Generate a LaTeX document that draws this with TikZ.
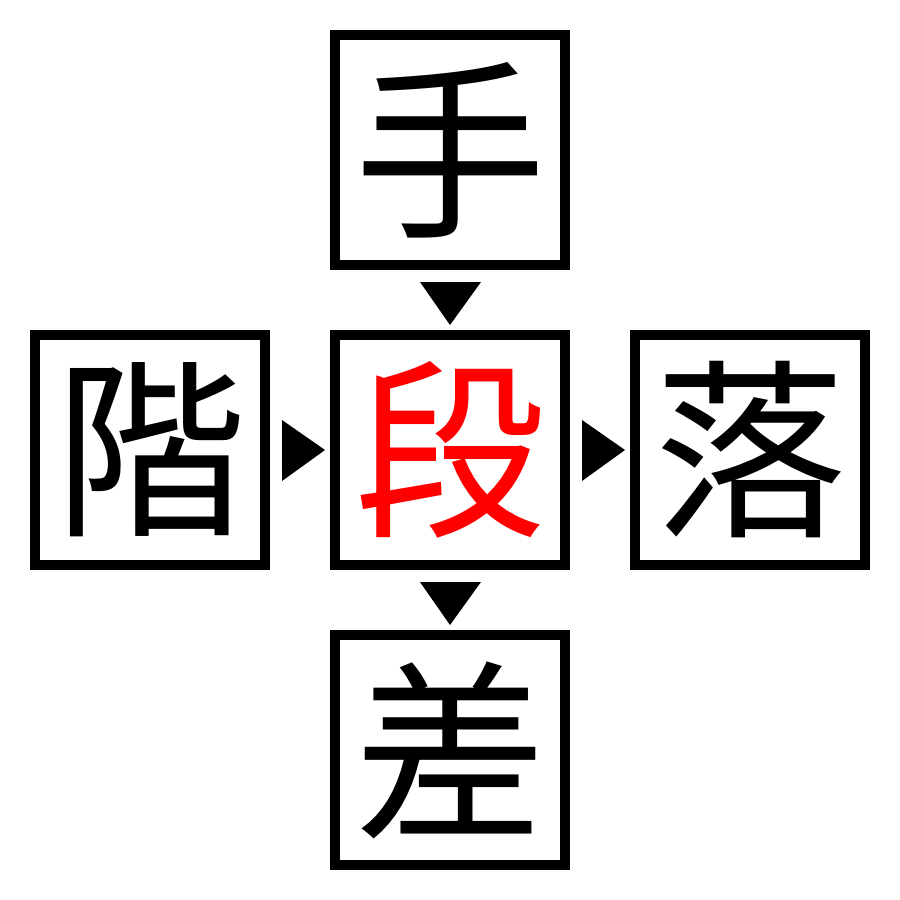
\documentclass[tikz,border=0pt]{standalone}
\usepackage{fontspec}
\newfontfamily\cjk{Noto Sans CJK JP}
\begin{document}
\begin{tikzpicture}[x=1pt,y=-1pt,
  kbox/.style={draw=black,line width=10pt,minimum width=230pt,minimum height=230pt,inner sep=0pt,font=\cjk\fontsize{192}{192}\selectfont,anchor=center},
  tri/.style={fill=black}]
\useasboundingbox (0,0) rectangle (900,900);
\node[kbox] (top) at (450,150) {手};
\node[kbox] (left) at (150,450) {階};
\node[kbox,text=red] (mid) at (450,450) {段};
\node[kbox] (right) at (750,450) {落};
\node[kbox] (bot) at (450,750) {差};
\coordinate (t1) at (420,282);
\coordinate (t2) at (481,282);
\coordinate (t3) at (450,325);
\fill[tri] (t1) -- (t2) -- (t3) -- cycle;
\coordinate (b1) at (420,582);
\coordinate (b2) at (481,582);
\coordinate (b3) at (450,625);
\fill[tri] (b1) -- (b2) -- (b3) -- cycle;
\coordinate (l1) at (282,420);
\coordinate (l2) at (282,481);
\coordinate (l3) at (325,450);
\fill[tri] (l1) -- (l2) -- (l3) -- cycle;
\coordinate (r1) at (582,420);
\coordinate (r2) at (582,481);
\coordinate (r3) at (625,450);
\fill[tri] (r1) -- (r2) -- (r3) -- cycle;
\end{tikzpicture}
\end{document}
